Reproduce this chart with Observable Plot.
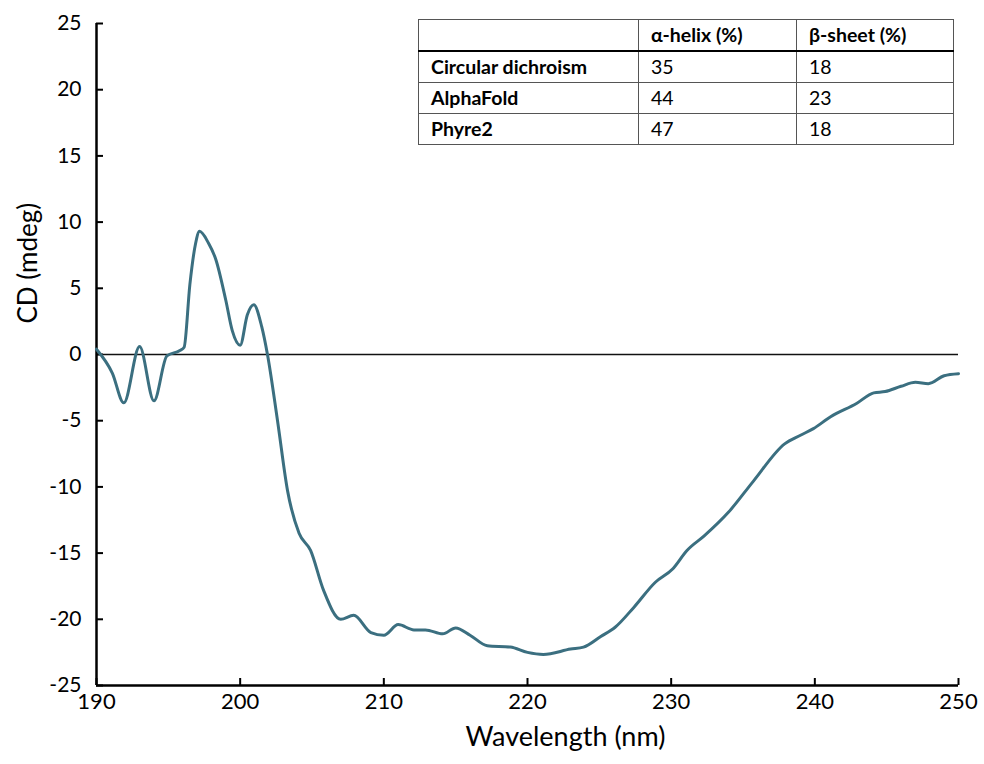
<!DOCTYPE html>
<html>
<head>
<meta charset="utf-8">
<script src="https://cdn.jsdelivr.net/npm/d3@7"></script>
<script src="https://cdn.jsdelivr.net/npm/@observablehq/plot@0.6"></script>
<style>
  html, body { margin: 0; padding: 0; background: #fff; }
  #wrap { position: relative; width: 984px; height: 764px; }
  #tbl { position: absolute; left: 418px; top: 19px; border-collapse: collapse;
         font-family: Lato, "Open Sans", sans-serif; font-size: 19.5px; color: #000; background: #fff; }
  #tbl td { border: 1px solid #555; padding: 0 0 0 12px; height: 30px; line-height: 30px; white-space: nowrap; }
  #tbl tr.head td { border-bottom: 2.5px solid #000; font-weight: bold; }
  #tbl td.lab { font-weight: bold; }
</style>
</head>
<body>
<div id="wrap"></div>
<script>
// CD spectrum
const wavelength = [190.0, 191.1, 191.9, 193.0, 194.0, 194.9, 195.8, 196.1, 196.5, 196.9, 197.17, 197.8, 198.3, 199.0, 199.45, 200.0, 200.5, 200.95, 201.5, 201.9, 202.6, 203.3, 204.1, 204.9, 205.8, 207.0, 207.9, 209.1, 210.0, 211.0, 212.1, 212.9, 214.1, 215.0, 216.0, 217.2, 218.8, 220.0, 221.1, 223.0, 223.9, 225.1, 226.1, 227.4, 228.9, 230.1, 231.1, 232.3, 234.0, 235.7, 237.9, 239.0, 239.9, 241.1, 242.9, 244.1, 244.9, 246.0, 247.0, 247.9, 249.0, 250.0];
const cdValues = [0.4, -1.4, -3.65, 0.6, -3.5, -0.1, 0.3, 0.55, 5.3, 8.4, 9.3, 8.4, 7.2, 4.1, 1.8, 0.7, 3.0, 3.75, 2.1, 0.0, -5.0, -10.3, -13.5, -14.8, -17.8, -20.0, -19.7, -21.0, -21.2, -20.4, -20.8, -20.8, -21.1, -20.65, -21.2, -22.0, -22.1, -22.5, -22.65, -22.25, -22.1, -21.3, -20.6, -19.1, -17.2, -16.2, -14.8, -13.7, -11.9, -9.6, -6.75, -6.1, -5.6, -4.7, -3.7, -2.9, -2.8, -2.4, -2.1, -2.2, -1.6, -1.45];
const xTicks = [190, 200, 210, 220, 230, 240, 250];
const yTicks = [-25, -20, -15, -10, -5, 0, 5, 10, 15, 20, 25];

// secondary-structure table
const tableHeader = ["", "α-helix (%)", "β-sheet (%)"];
const methods = ["Circular dichroism", "AlphaFold", "Phyre2"];
const alphaHelix = [35, 44, 47];
const betaSheet = [18, 23, 18];

const data = wavelength.map((w, i) => ({w, cd: cdValues[i]}));

const chart = Plot.plot({
  width: 984,
  height: 764,
  marginLeft: 96,
  marginRight: 26,
  marginTop: 23,
  marginBottom: 79,
  x: {domain: [190, 250]},
  y: {domain: [-25, 25]},
  style: {fontFamily: "Lato, 'Open Sans', sans-serif", fontSize: "20px", color: "#000", background: "#fff"},
  marks: [
    Plot.axisY(yTicks, {tickSize: -7, tickPadding: 22, strokeWidth: 2, label: null, fontSize: 21, tickFormat: d => String(d)}),
    Plot.axisX(xTicks, {tickSize: -7, tickPadding: 15, strokeWidth: 2, label: null, fontSize: 22, tickFormat: d => String(d)}),
    Plot.ruleY([0], {stroke: "#111", strokeWidth: 1.6}),
    Plot.ruleX([190], {stroke: "#000", strokeWidth: 2.5}),
    Plot.ruleY([-25], {stroke: "#000", strokeWidth: 2.5}),
    Plot.line(data, {x: "w", y: "cd", curve: "monotone-x", stroke: "#3b6f80", strokeWidth: 3}),
    Plot.text(["CD (mdeg)"], {frameAnchor: "left", rotate: -90, dx: -68, dy: -31, fontSize: 26}),
    Plot.text(["Wavelength (nm)"], {frameAnchor: "bottom", dx: 38, dy: 60, fontSize: 27})
  ]
});
document.getElementById("wrap").appendChild(chart);

// build table
const tbl = document.createElement("table");
tbl.id = "tbl";
const widths = [220, 158, 157];
const hr = document.createElement("tr");
hr.className = "head";
tableHeader.forEach((h, j) => {
  const td = document.createElement("td");
  td.textContent = h;
  td.style.width = (widths[j] - 13) + "px";
  hr.appendChild(td);
});
tbl.appendChild(hr);
methods.forEach((m, i) => {
  const tr = document.createElement("tr");
  [m, alphaHelix[i], betaSheet[i]].forEach((v, j) => {
    const td = document.createElement("td");
    td.textContent = v;
    if (j === 0) td.className = "lab";
    tr.appendChild(td);
  });
  tbl.appendChild(tr);
});
document.getElementById("wrap").appendChild(tbl);
</script>
</body>
</html>
